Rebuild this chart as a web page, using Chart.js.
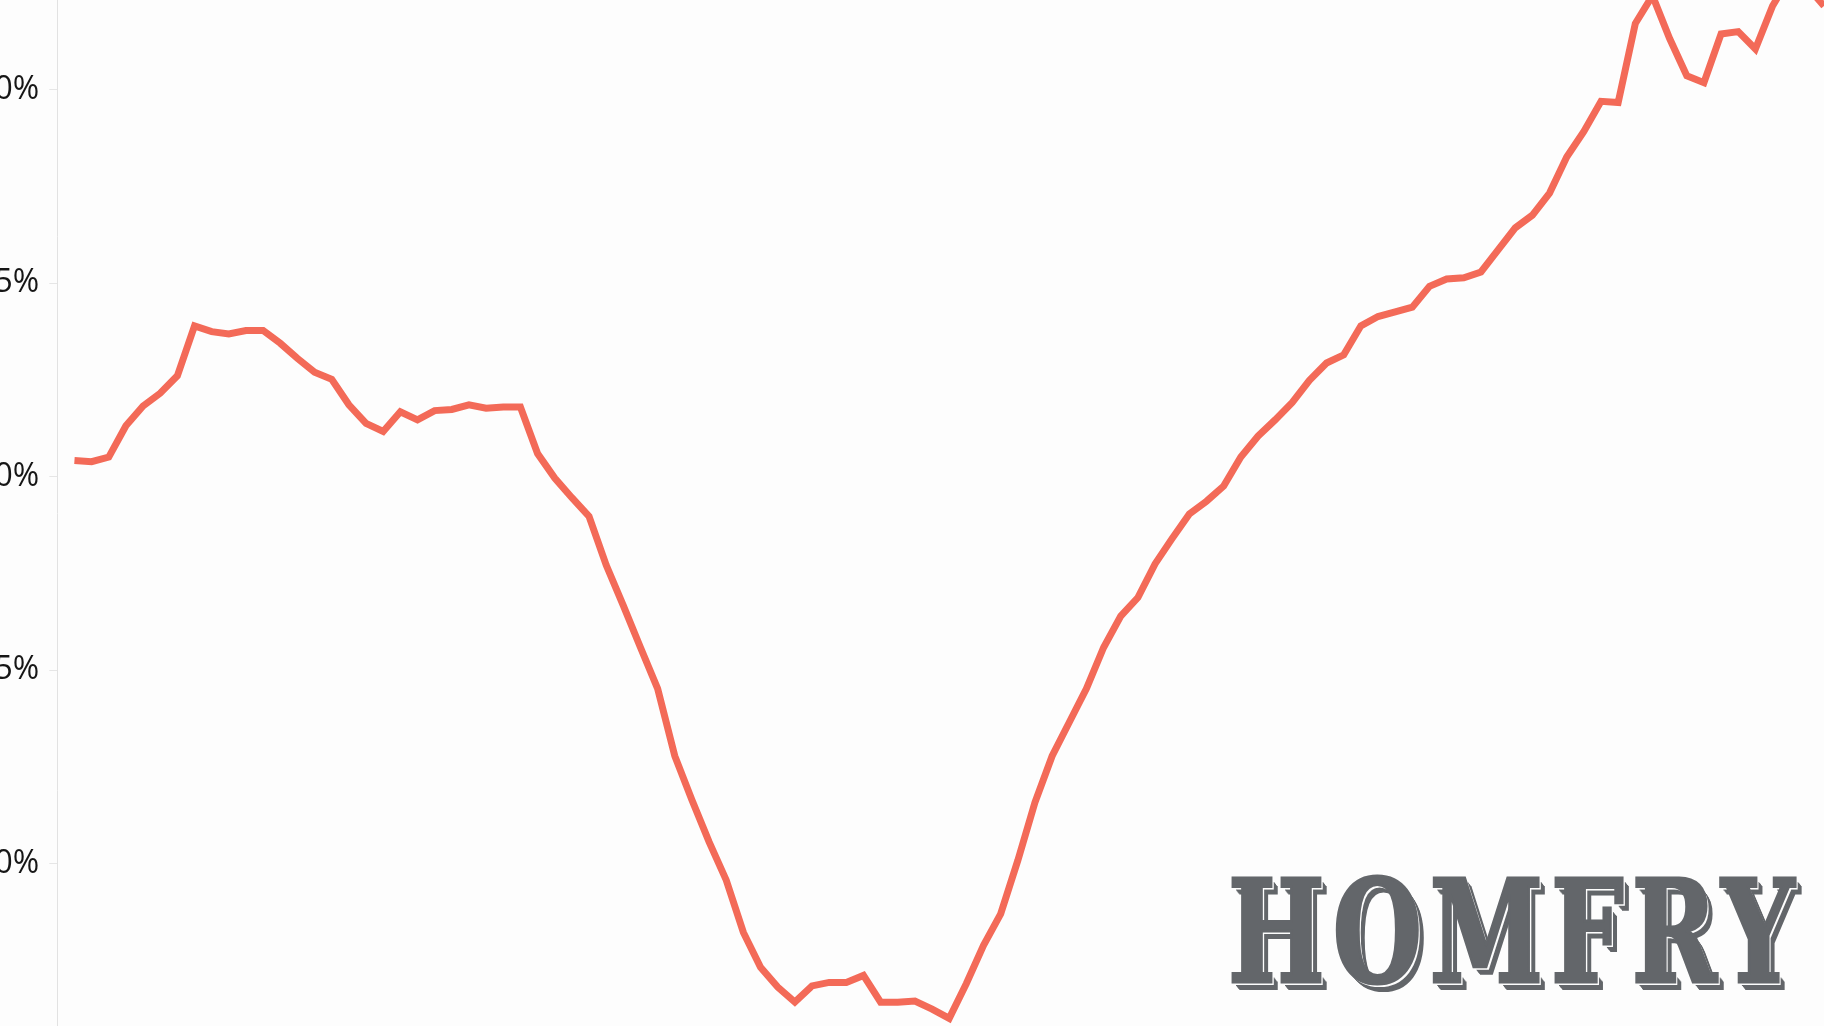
<!DOCTYPE html>
<html>
<head>
  <meta charset="UTF-8">
  <title>HOMFRY</title>
  <script src="https://cdn.jsdelivr.net/npm/chart.js"></script>
  <style>
    html, body {
      margin: 0;
      padding: 0;
      width: 1824px;
      height: 1026px;
      overflow: hidden;
      background: #fdfdfd;
    }

    .wrap {
      position: absolute;
      left: 0;
      top: -100px;
      width: 1824px;
      height: 1226px;
    }

    #logo {
      position: absolute;
      left: 1228px;
      top: 870px;
      margin: 0;
      font-family: "DejaVu Serif Condensed", "DejaVu Serif", serif;
      font-weight: bold;
      line-height: 1;
      letter-spacing: 0.07em;
      color: #63666a;
      -webkit-text-stroke: 3px #63666a;
      white-space: nowrap;
      transform-origin: 0 0;
      text-shadow:
        2px 2px 0 #fdfdfd,
        3px 3px 0 #fdfdfd,
        4px 4px 0 #63666a,
        5px 5px 0 #63666a,
        6px 6px 0 #63666a,
        7px 7px 0 #63666a,
        8px 8px 0 #63666a;
    }
  </style>
</head>
<body>
  <div class="wrap">
    <canvas id="chart"></canvas>
  </div>
  <div id="logo"></div>

  <script>
    // values, one per period
    const share = [
      30.42, 30.39, 30.51, 31.32, 31.83, 32.16, 32.61, 33.90, 33.75, 33.69,
      33.78, 33.78, 33.45, 33.06, 32.70, 32.52, 31.86, 31.38, 31.17, 31.68,
      31.47, 31.71, 31.74, 31.86, 31.77, 31.80, 31.80, 30.60, 29.97, 29.46,
      28.98, 27.72, 26.67, 25.59, 24.53, 22.79, 21.65, 20.57, 19.58, 18.23,
      17.33, 16.82, 16.43, 16.85, 16.94, 16.94, 17.12, 16.43, 16.43, 16.46,
      16.25, 16.01, 16.91, 17.90, 18.71, 20.09, 21.59, 22.79, 23.66, 24.53,
      25.59, 26.40, 26.88, 27.75, 28.41, 29.04, 29.37, 29.76, 30.51, 31.05,
      31.47, 31.92, 32.49, 32.94, 33.15, 33.90, 34.14, 34.26, 34.38, 34.92,
      35.11, 35.14, 35.29, 35.86, 36.43, 36.76, 37.33, 38.26, 38.92, 39.70,
      39.67, 41.71, 42.43, 41.32, 40.36, 40.18, 41.44, 41.50, 41.05, 42.16,
      42.91, 42.67, 42.16
    ];
    const periods = share.map((_, i) => i);
    const yTicks = [20, 25, 30, 35, 40];
    const brand = 'HOMFRY';

    const ctx = document.getElementById('chart').getContext('2d');

    new Chart(ctx, {
      type: 'line',
      data: {
        datasets: [{
          data: periods.map((p, i) => ({ x: p, y: share[i] })),
          borderColor: '#f36a58',
          borderWidth: 7,
          pointRadius: 0,
          tension: 0,
          fill: false
        }]
      },
      options: {
        responsive: true,
        maintainAspectRatio: false,
        animation: false,
        layout: { padding: { top: 60, bottom: 60, left: 0, right: 0 } },
        plugins: {
          legend: { display: false },
          tooltip: { enabled: false }
        },
        scales: {
          x: {
            type: 'linear',
            display: false,
            min: -1,
            max: 102
          },
          y: {
            min: 14.78,
            max: 43.35,
            afterFit: s => { s.width = 57.3; },
            afterBuildTicks: s => { s.ticks = yTicks.map(v => ({ value: v })); },
            border: { color: '#e2e2e2', width: 1 },
            grid: { drawOnChartArea: false, tickLength: 8, color: '#e6e6e6' },
            ticks: {
              padding: 10,
              color: '#161616',
              font: { family: 'Open Sans', size: 32, weight: 400 },
              callback: v => v + '%'
            }
          }
        }
      }
    });

    // brand mark, sized to the box it takes in the picture
    const logo = document.getElementById('logo');
    logo.textContent = brand;
    const family = '"DejaVu Serif Condensed", "DejaVu Serif"';
    const m = document.createElement('canvas').getContext('2d');
    m.font = 'bold 100px ' + family;
    const mt = m.measureText(brand);
    const capH = mt.actualBoundingBoxAscent + 2; // stroke adds a little
    const size = 108 / capH * 100;
    const k = size / 100;
    logo.style.fontSize = size + 'px';
    const asc = mt.fontBoundingBoxAscent * k;
    const desc = mt.fontBoundingBoxDescent * k;
    const baseline = (size - (asc + desc)) / 2 + asc;
    logo.style.top = (876 + 2 - (baseline - mt.actualBoundingBoxAscent * k)) + 'px';
    const textW = logo.offsetWidth - 0.07 * size;
    logo.style.transform = `scaleX(${566 / textW})`;
  </script>
</body>
</html>
